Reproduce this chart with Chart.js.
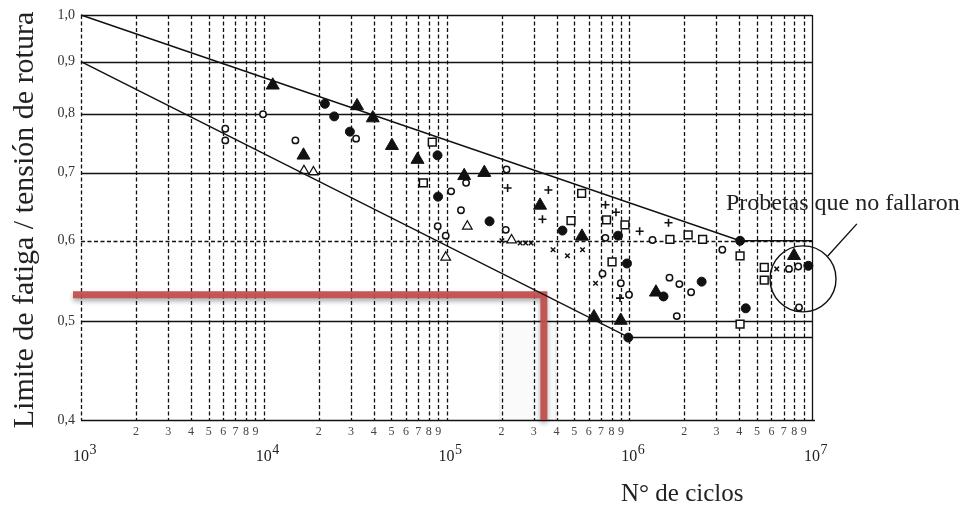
<!DOCTYPE html>
<html><head><meta charset="utf-8">
<script src="https://cdn.jsdelivr.net/npm/chart.js@4/dist/chart.umd.min.js"></script>
<style>html,body{margin:0;padding:0;background:#fff;}#wrap{width:968px;height:506px;position:relative;}</style>
</head><body><div id="wrap"><canvas id="c" width="968" height="506"></canvas></div>
<script>
// ---- Axes / ticks ----
const xDecades = [1e3, 1e4, 1e5, 1e6, 1e7];
const xDecadeExponents = ['3', '4', '5', '6', '7'];
const xMinorDigits = ['2', '3', '4', '5', '6', '7', '8', '9'];
const yTickValues = [0.4, 0.5, 0.6, 0.7, 0.8, 0.9, 1.0];
const yTickLabels = ['0,4', '0,5', '0,6', '0,7', '0,8', '0,9', '1,0'];
const yDashedValue = 0.6;
const xTitle = 'N° de ciclos';
const yTitle = 'Limite de fatiga / tensión de rotura';

// ---- Series [N ciclos, S/Sr] ----
const trianguloLleno = [[11200,0.853],[32400,0.814],[39500,0.792],[50300,0.744],[69400,0.721],[16500,0.728],[125000,0.695],[161000,0.700],[325000,0.650],[551000,0.606],[641000,0.505],[898000,0.501],[1.40e6,0.534],[7.97e6,0.580]];
const circuloLleno = [[21600,0.818],[24300,0.795],[29600,0.768],[89300,0.728],[89900,0.663],[172000,0.627],[431000,0.614],[868000,0.607],[972000,0.570],[988000,0.482],[1.54e6,0.529],[4.04e6,0.600],[4.34e6,0.515],[9.55e6,0.567],[2.49e6,0.547]];
const circuloAbierto = [[6160,0.773],[6160,0.753],[9910,0.799],[14900,0.753],[32000,0.756],[106000,0.671],[128000,0.684],[213000,0.705],[120000,0.643],[89500,0.620],[99000,0.607],[211000,0.615],[740000,0.604],[714000,0.557],[899000,0.545],[997000,0.531],[1.34e6,0.601],[1.66e6,0.552],[1.88e6,0.544],[2.18e6,0.534],[1.82e6,0.506],[3.23e6,0.588],[7.48e6,0.563],[8.41e6,0.566],[8.49e6,0.516]];
const cuadradoAbierto = [[83600,0.750],[74700,0.684],[549000,0.668],[480000,0.628],[751000,0.629],[948000,0.622],[805000,0.572],[1.67e6,0.602],[2.10e6,0.608],[2.52e6,0.602],[4.04e6,0.580],[4.04e6,0.497],[5.48e6,0.565],[5.48e6,0.549]];
const cruz = [[216000,0.676],[361000,0.673],[335000,0.630],[741000,0.651],[846000,0.640],[1.14e6,0.613],[1.64e6,0.625],[890000,0.527]];
const aspa = [[383000,0.588],[459000,0.580],[555000,0.588],[654000,0.545],[201000,0.600],[253000,0.597],[271000,0.597],[290000,0.597],[6.41e6,0.563]];
const trianguloAbierto = [[16600,0.703],[18700,0.701],[130000,0.620],[99000,0.578],[227000,0.601]];

// ---- Envelope lines ----
const curvaSuperior = [[1e3,1.0],[4.04e6,0.6],[1e7,0.6]];
const curvaInferior = [[1e3,0.9],[1e6,0.482],[1e7,0.482]];

// ---- Red guide ----
const guiaRoja = [[904,0.531],[3.41e5,0.531],[3.41e5,0.4]];
const recuadro = [1.96e5, 3.97e5, 0.4, 0.5];

// ---- Annotation ----
const notaTexto = 'Probetas que no fallaron';
const notaAncla = [3.38e6, 0.6431];
const notaCirculoCentro = [8.93e6, 0.5504];
const notaGuia = [[1.22e7, 0.5797], [1.76e7, 0.6234]];

const SERIF = '"Liberation Serif", "DejaVu Serif", serif';
const pts = a => a.map(([x, y]) => ({x, y}));
const markers = (data, style, r, fill, bw) => ({
  data: pts(data), pointStyle: style, pointRadius: r, pointHoverRadius: r,
  backgroundColor: fill, borderColor: '#111', borderWidth: bw, showLine: false, clip: false
});
const line = (data, color, w) => ({
  data: pts(data), showLine: true, pointRadius: 0, borderColor: color, borderWidth: w,
  tension: 0, fill: false, clip: false, borderJoinStyle: 'miter', borderCapStyle: 'butt'
});

const paper = {
  id: 'paper',
  beforeDatasetsDraw(chart) {
    const {ctx, chartArea: a, scales: {x, y}} = chart;
    ctx.save();
    // faint box
    const bx0 = x.getPixelForValue(recuadro[0]), bx1 = x.getPixelForValue(recuadro[1]);
    const by0 = y.getPixelForValue(recuadro[2]), by1 = y.getPixelForValue(recuadro[3]);
    ctx.fillStyle = 'rgba(0,0,0,0.018)';
    ctx.fillRect(bx0, by1, bx1 - bx0, by0 - by1);
    ctx.strokeStyle = 'rgba(0,0,0,0.1)'; ctx.lineWidth = 1;
    ctx.strokeRect(bx0, by1, bx1 - bx0, by0 - by1);
    // vertical grid
    ctx.strokeStyle = '#111'; ctx.lineWidth = 1.3;
    const vals = [];
    xDecades.forEach((d, i) => {
      vals.push(d);
      if (i < xDecades.length - 1) xMinorDigits.forEach(m => vals.push(d * parseInt(m)));
    });
    vals.forEach(v => {
      const px = Math.round(x.getPixelForValue(v)) + 0.5;
      ctx.setLineDash(v === xDecades[xDecades.length - 1] ? [] : [4, 2.5]);
      ctx.beginPath(); ctx.moveTo(px, a.top); ctx.lineTo(px, a.bottom); ctx.stroke();
    });
    // horizontal grid
    ctx.lineWidth = 1.5;
    yTickValues.forEach(v => {
      const py = Math.round(y.getPixelForValue(v)) + 0.5;
      ctx.setLineDash(v === yDashedValue ? [4, 2.5] : []);
      ctx.beginPath(); ctx.moveTo(a.left, py); ctx.lineTo(a.right + (v === yTickValues[0] ? 3 : 0), py); ctx.stroke();
    });
    ctx.setLineDash([]);
    ctx.restore();
  },
  beforeDatasetDraw(chart, args) {
    if (args.meta._dataset.label === 'guia') {
      const ctx = chart.ctx; ctx.save();
      ctx.shadowColor = 'rgba(0,0,0,0.35)'; ctx.shadowBlur = 5; ctx.shadowOffsetY = 3;
    }
  },
  afterDatasetDraw(chart, args) {
    if (args.meta._dataset.label === 'guia') chart.ctx.restore();
  },
  afterDraw(chart) {
    const {ctx, chartArea: a, scales: {x, y}} = chart;
    ctx.save();
    // y labels
    ctx.fillStyle = '#333'; ctx.font = '14px ' + SERIF;
    ctx.textAlign = 'right'; ctx.textBaseline = 'middle';
    yTickValues.forEach((v, i) => ctx.fillText(yTickLabels[i], a.left - 6, y.getPixelForValue(v)));
    // x minor labels
    ctx.font = '12px ' + SERIF; ctx.textAlign = 'center'; ctx.fillStyle = '#444';
    xDecades.slice(0, -1).forEach(d => xMinorDigits.forEach(m => {
      ctx.fillText(m, x.getPixelForValue(d * parseInt(m)), a.bottom + 12);
    }));
    // decade labels
    ctx.textBaseline = 'alphabetic'; ctx.textAlign = 'left'; ctx.fillStyle = '#222';
    xDecades.forEach((d, i) => {
      const px = x.getPixelForValue(d);
      ctx.font = '16px ' + SERIF;
      const w = ctx.measureText('10').width;
      ctx.fillText('10', px - w / 2, a.bottom + 41);
      ctx.font = '14px ' + SERIF;
      ctx.fillText(xDecadeExponents[i], px + w / 2 + 0.5, a.bottom + 34);
    });
    // x title
    ctx.font = '25px ' + SERIF; ctx.fillStyle = '#222';
    ctx.fillText(xTitle, 621, 501);
    // y title
    ctx.save();
    ctx.translate(33, 220); ctx.rotate(-Math.PI / 2);
    ctx.textAlign = 'center'; ctx.font = '30px ' + SERIF;
    ctx.fillText(yTitle, 0, 0);
    ctx.restore();
    // annotation
    ctx.font = '24px ' + SERIF; ctx.textAlign = 'left';
    ctx.fillText(notaTexto, x.getPixelForValue(notaAncla[0]), y.getPixelForValue(notaAncla[1]));
    ctx.strokeStyle = '#111'; ctx.lineWidth = 1.4;
    ctx.beginPath();
    ctx.arc(x.getPixelForValue(notaCirculoCentro[0]), y.getPixelForValue(notaCirculoCentro[1]), 33, 0, Math.PI * 2);
    ctx.stroke();
    ctx.beginPath();
    ctx.moveTo(x.getPixelForValue(notaGuia[0][0]), y.getPixelForValue(notaGuia[0][1]));
    ctx.lineTo(x.getPixelForValue(notaGuia[1][0]), y.getPixelForValue(notaGuia[1][1]));
    ctx.stroke();
    ctx.restore();
  }
};

new Chart(document.getElementById('c'), {
  type: 'scatter',
  data: {
    datasets: [
      Object.assign(line(curvaSuperior, '#111', 1.5), {label: 'sup'}),
      Object.assign(line(curvaInferior, '#111', 1.5), {label: 'inf'}),
      Object.assign(markers(circuloAbierto, 'circle', 3.2, '#fff', 1.5), {label: 'ca'}),
      Object.assign(markers(cuadradoAbierto, 'rect', 5.5, '#fff', 1.5), {label: 'qa'}),
      Object.assign(markers(trianguloAbierto, 'triangle', 5.5, '#fff', 1.3), {label: 'ta'}),
      Object.assign(markers(cruz, 'cross', 4, '#111', 1.6), {label: 'cr'}),
      Object.assign(markers(aspa, 'crossRot', 3.2, '#111', 1.5), {label: 'as'}),
      Object.assign(markers(circuloLleno, 'circle', 4.5, '#111', 1), {label: 'cl'}),
      Object.assign(markers(trianguloLleno, 'triangle', 7.5, '#111', 1), {label: 'tl'}),
      Object.assign(line(guiaRoja, 'rgba(194,80,78,0.95)', 7), {label: 'guia'})
    ]
  },
  options: {
    responsive: false, animation: false, devicePixelRatio: 1,
    layout: {padding: {left: 81, right: 156, top: 15, bottom: 86}},
    plugins: {legend: {display: false}, tooltip: {enabled: false}},
    events: [],
    scales: {
      x: {type: 'logarithmic', min: 1e3, max: 1e7, display: false},
      y: {type: 'logarithmic', min: 0.4, max: 1.0, display: false}
    }
  },
  plugins: [paper]
});
</script>
</body></html>
